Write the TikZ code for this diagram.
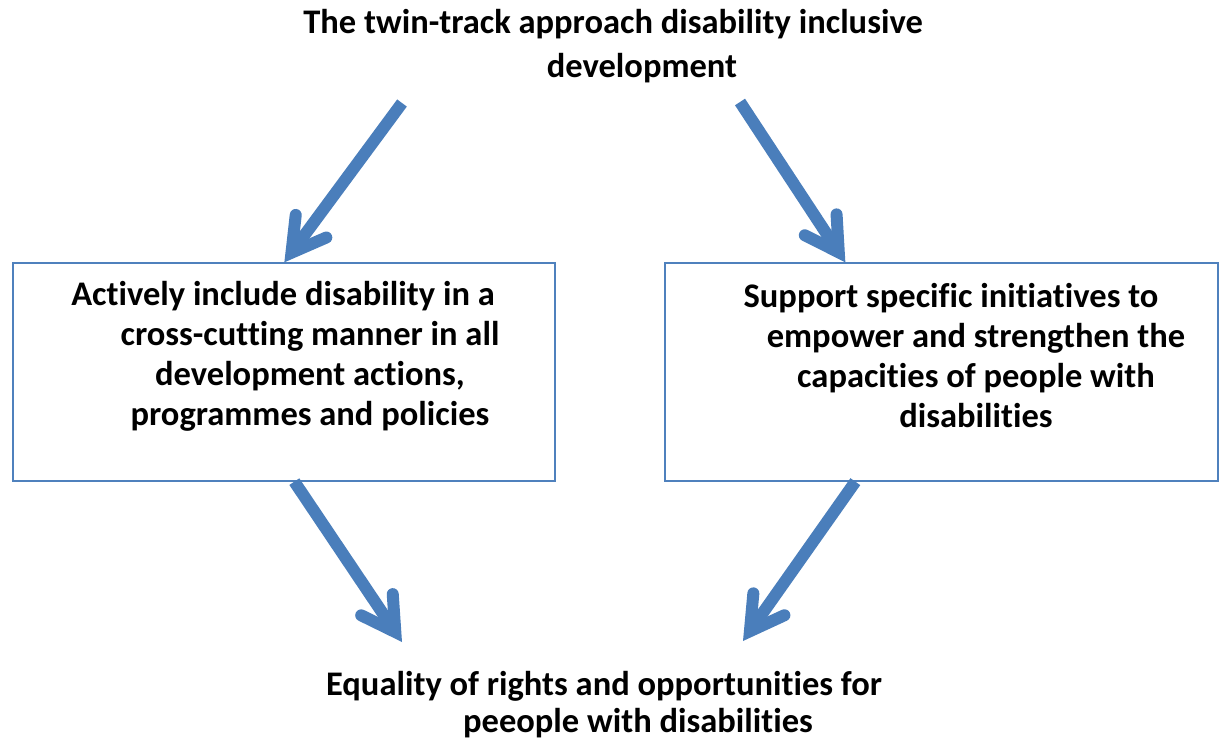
\documentclass[tikz,border=0pt]{standalone}
\usepackage{fontspec}
\setmainfont{Carlito}[Ligatures=NoCommon]
\usetikzlibrary{calc}
\definecolor{arrowblue}{HTML}{4A7EBB}
\definecolor{boxblue}{HTML}{4F81BD}
\tikzset{
  shaft/.style={draw=arrowblue, line width=12pt, line cap=butt},
  barb/.style={draw=arrowblue, line width=12pt, line cap=round, line join=miter},
  frame/.style={draw=boxblue, line width=1.3pt, minimum width=542pt, minimum height=218pt, inner sep=0pt},
  label/.style={font=\bfseries\fontsize{34.5}{40}\selectfont, align=center, inner sep=0pt, text=black}
}
\newcommand\twinarrow[2]{%
  \coordinate (tmp) at ($(#2)!12pt!(#1)$);
  \draw[shaft] (#1) -- (tmp);
  \draw[barb] ($(tmp)!38pt!30:(#1)$) -- (tmp) -- ($(tmp)!38pt!-30:(#1)$);
}
\begin{document}
\begin{tikzpicture}[x=1pt,y=-1pt]
\useasboundingbox (0,0) rectangle (1219,740);
% title
\node[label, font=\bfseries\fontsize{34.5}{44}\selectfont] (title) at (613,46) {The twin-track approach disability inclusive\\\hspace*{58pt}development};
% boxes
\node[frame] (b1) at (284,372) {};
\node[frame, minimum width=553pt] (b2) at (941.5,372) {};
\node[label] (t1) at (310,356) {Actively include disability in a\hspace*{54pt}\\cross-cutting manner in all\\development actions,\\programmes and policies};
\node[label] (t2) at (976,356) {Support specific initiatives to\hspace*{50pt}\\empower and strengthen the\\capacities of people with\\disabilities};
% bottom
\node[label, font=\bfseries\fontsize{34.5}{37}\selectfont] (goal) at (604,705) {Equality of rights and opportunities for\\\hspace*{68pt}peeople with disabilities};
% arrow coordinates
\coordinate (s1) at (402,103);
\coordinate (e1) at ($(b1.north west)+(272,0)$);
\coordinate (s2) at (740,102);
\coordinate (e2) at ($(b2.north west)+(181,0)$);
\coordinate (s3) at ($(b1.south west)+(282,0)$);
\coordinate (e3) at (402,642);
\coordinate (s4) at ($(b2.south west)+(191,0)$);
\coordinate (e4) at (743,641);
\twinarrow{s1}{e1}
\twinarrow{s2}{e2}
\twinarrow{s3}{e3}
\twinarrow{s4}{e4}
\end{tikzpicture}
\end{document}
